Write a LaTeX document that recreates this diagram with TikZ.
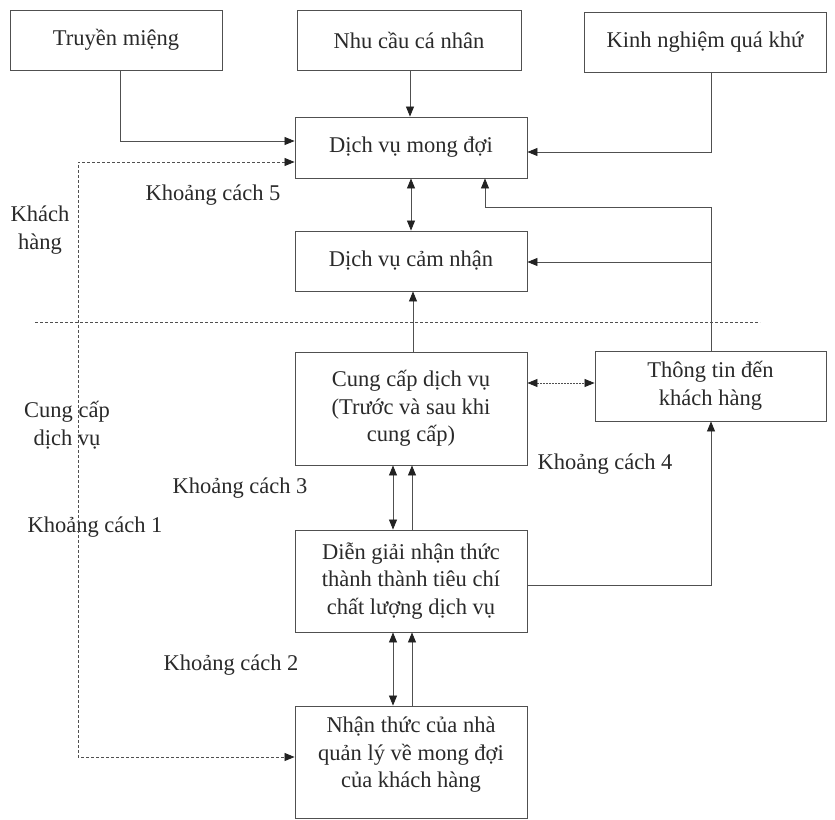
\documentclass[tikz,border=0pt]{standalone}
\usepackage{fontspec}
\setmainfont{Liberation Serif}
\usetikzlibrary{arrows.meta}
\definecolor{ln}{HTML}{505050}
\definecolor{tx}{HTML}{2A2A2A}
\definecolor{hd}{HTML}{222222}
\begin{document}
\begin{tikzpicture}[x=1pt,y=-1pt,
  font=\fontsize{22.5}{27.5}\selectfont,
  box/.style={draw=ln,line width=0.9pt,rectangle,inner sep=0pt,align=center,text=tx},
  lbl/.style={text=tx,align=center,inner sep=0pt},
  conn/.style={draw=ln,line width=0.8pt},
  tip/.style={-{Triangle[length=10pt,width=8pt,color=hd]}},
  dtip/.style={{Triangle[length=10pt,width=8pt,color=hd]}-{Triangle[length=10pt,width=8pt,color=hd]}},
  dashline/.style={draw=ln,line width=0.8pt,dash pattern=on 3pt off 2pt}]
\useasboundingbox (0,0) rectangle (835,819);
\fill[white] (0,0) rectangle (835,819);

% boxes
\node[box,minimum width=212pt,minimum height=60pt] (tm) at (116,40) {Truyền miệng};
\node[box,minimum width=224pt,minimum height=60pt] (nc) at (409,40) {Nhu cầu cá nhân};
\node[box,minimum width=242pt,minimum height=60pt] (kn) at (705,42) {Kinh nghiệm quá khứ};
\node[box,minimum width=232pt,minimum height=61pt] (md) at (411,147.5) {Dịch vụ mong đợi};
\node[box,minimum width=232pt,minimum height=60pt] (cn) at (411,261) {Dịch vụ cảm nhận};
\node[box,minimum width=232pt,minimum height=113pt] (cc) at (411,408.5) {Cung cấp dịch vụ\\(Trước và sau khi\\cung cấp)};
\node[box,minimum width=231pt,minimum height=70pt] (tt) at (710.5,386) {Thông tin đến\\khách hàng};
\node[box,minimum width=232pt,minimum height=102pt] (dg) at (411,581) {Diễn giải nhận thức\\thành thành tiêu chí\\chất lượng dịch vụ};
\node[box,minimum width=232pt,minimum height=112pt] (nt) at (411,762) {};
\node[lbl] (ntt) at (411,755) {Nhận thức của nhà\\quản lý về mong đợi\\của khách hàng};

% labels
\node[lbl] (k5) at (213,195) {Khoảng cách 5};
\node[lbl] (kh) at (40,230) {Khách\\hàng};
\node[lbl] (cd) at (67,425) {Cung cấp\\dịch vụ};
\node[lbl] (k3) at (240,488) {Khoảng cách 3};
\node[lbl] (k4) at (605,464) {Khoảng cách 4};
\node[lbl] (k1) at (95,527) {Khoảng cách 1};
\node[lbl] (k2) at (231,665) {Khoảng cách 2};

% divider
\coordinate (dvl) at (35,322);
\coordinate (dvr) at (760,322);
\draw[dashline] (dvl) -- (dvr);

% connectors
\draw[conn,tip] (tm.south -| 120,0) -- (120,141) -- (md.west |- 0,141);
\draw[conn,tip] (nc.south -| 410,0) -- (md.north -| 410,0);
\draw[conn,tip] (kn.south -| 711,0) -- (711,152) -- (md.east |- 0,152);
\draw[dashline,dtip] (md.west |- 0,162) -- (78,162) -- (78,757) -- (nt.west |- 0,757);
\draw[conn,dtip] (md.south -| 411,0) -- (cn.north -| 411,0);
\draw[conn,tip] (tt.north -| 711,0) -- (711,207) -- (485,207) -- (md.south -| 485,0);
\coordinate (br) at (711,262);
\draw[conn,tip] (br) -- (cn.east |- br);
\draw[conn,tip] (cc.north -| 413,0) -- (cn.south -| 413,0);
\draw[dashline,dash pattern=on 1.5pt off 1.5pt,dtip] (cc.east |- 0,383) -- (tt.west |- 0,383);
\draw[conn,dtip] (cc.south -| 393,0) -- (dg.north -| 393,0);
\draw[conn,tip] (dg.north -| 412,0) -- (cc.south -| 412,0);
\draw[conn,dtip] (dg.south -| 393,0) -- (nt.north -| 393,0);
\draw[conn,tip] (nt.north -| 412,0) -- (dg.south -| 412,0);
\draw[conn,tip] (dg.east |- 0,585) -- (711,585) -- (tt.south -| 711,0);
\end{tikzpicture}
\end{document}
